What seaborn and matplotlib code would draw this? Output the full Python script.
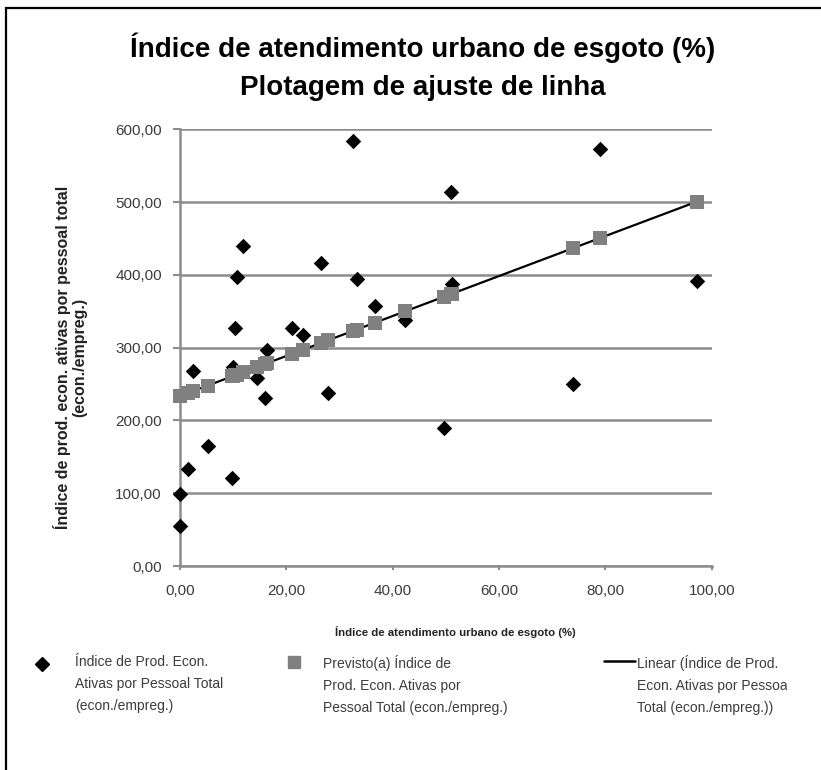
import matplotlib
matplotlib.use("Agg")
import matplotlib.pyplot as plt
import seaborn as sns
import pandas as pd
from matplotlib.patches import Rectangle
from matplotlib.transforms import Bbox, TransformedBbox

# ---- data ----
esgoto = [0, 0, 1.5, 2.5, 5.2, 9.8, 9.9, 10.3, 10.7, 11.8, 14.5, 16.0, 16.4,
          21.0, 23.2, 26.5, 27.8, 32.6, 33.2, 36.7, 42.3, 49.7, 50.9, 51.2,
          74.0, 79.0, 97.2]
produtividade = [99, 55, 133, 268.5, 165, 120.6, 274, 326.6, 397.5, 440, 258,
                 231, 297, 327.5, 317.5, 416, 238, 584, 394, 357.7, 338, 189.3,
                 514, 387.5, 249.7, 572.5, 391.6]
previsto = [233.6, 233.6, 237.7, 240.5, 247.9, 260.5, 260.8, 261.9, 263.0,
            266.0, 273.4, 277.6, 278.7, 291.3, 297.3, 306.4, 310.0, 323.2,
            324.8, 334.4, 349.8, 370.1, 373.4, 374.2, 436.9, 450.6, 500.6]
x_ticks = [0, 20, 40, 60, 80, 100]
y_ticks = [0, 100, 200, 300, 400, 500, 600]

title = "Índice de atendimento urbano de esgoto (%)\nPlotagem de ajuste de linha"
x_label = "Índice de atendimento urbano de esgoto (%)"
y_label = "Índice de prod. econ. ativas por pessoal total\n(econ./empreg.)"
leg1 = "Índice de Prod. Econ.\nAtivas por Pessoal Total\n(econ./empreg.)"
leg2 = "Previsto(a) Índice de\nProd. Econ. Ativas por\nPessoal Total (econ./empreg.)"
leg3 = "Linear (Índice de Prod.\nEcon. Ativas por Pessoal\nTotal (econ./empreg.))"

df = pd.DataFrame({"x": esgoto, "y": produtividade, "p": previsto})

sns.set_theme(style="white")
FONT = ["Liberation Sans", "DejaVu Sans"]
plt.rcParams["font.family"] = FONT

GRID = "#8c8c8c"
TXT = "#3c3c3c"

fig = plt.figure(figsize=(8.21, 7.70), dpi=100)
W, H = 821, 770
ax = fig.add_axes([180 / W, 1 - 566 / H, (711.7 - 180) / W, (566 - 129.3) / H])

sns.scatterplot(data=df, x="x", y="y", marker="D", s=62, color="black",
                linewidth=0, ax=ax, zorder=3, clip_on=False)
sns.lineplot(data=df, x="x", y="p", color="black", linewidth=1.6, ax=ax,
             zorder=4, errorbar=None)
sns.scatterplot(data=df, x="x", y="p", marker="s", s=95, color="#808080",
                linewidth=0, ax=ax, zorder=5, clip_on=False)

ax.set_xlim(0, 100)
ax.set_ylim(0, 600)
ax.set_xticks(x_ticks)
ax.set_yticks(y_ticks)
ax.set_xticklabels([f"{v:.2f}".replace(".", ",") for v in x_ticks])
ax.set_yticklabels([f"{v:.2f}".replace(".", ",") for v in y_ticks])
ax.yaxis.grid(True, color=GRID, linewidth=1.8)
ax.xaxis.grid(False)
ax.set_axisbelow(True)
for s in ["top", "right"]:
    ax.spines[s].set_visible(False)
for s in ["left", "bottom"]:
    ax.spines[s].set_color(GRID)
    ax.spines[s].set_linewidth(1.8)
ax.tick_params(axis="y", which="major", left=True, length=5, width=1.5,
               color=GRID, labelsize=11, labelcolor=TXT, pad=8)
ax.tick_params(axis="x", which="major", bottom=True, length=3, width=1.5,
               color=GRID, labelsize=11, labelcolor=TXT, pad=10)

ax.set_xlabel("")
ax.set_ylabel("")
fig.text(455 / W, 1 - 632 / H, x_label, ha="center", va="center",
         fontsize=8.2, fontweight="bold", color="#222222")
fig.text(70 / W, 1 - 357 / H, y_label, ha="center", va="center",
         rotation=90, fontsize=11.5, fontweight="bold", color="#222222",
         linespacing=1.15)

fig.text(423 / W, 1 - 67 / H, title, ha="center", va="center",
         fontsize=20, fontweight="bold", color="black", linespacing=1.6)

# legend (drawn as in the reference, below the axis title)
LEG_Y = 655
fig.text(75 / W, 1 - LEG_Y / H, leg1, ha="left", va="top", fontsize=10,
         color=TXT, linespacing=1.72)
fig.text(323 / W, 1 - LEG_Y / H, leg2, ha="left", va="top", fontsize=10,
         color=TXT, linespacing=1.72)
t3 = fig.text(637 / W, 1 - LEG_Y / H, leg3, ha="left", va="top",
              fontsize=10, color=TXT, linespacing=1.72)
t3.set_clip_on(True)
t3.set_clip_box(TransformedBbox(Bbox([[0, 0], [787 / W, 1]]), fig.transFigure))

fig.lines.append(plt.Line2D([42 / W], [1 - 664 / H], marker="D", markersize=7,
                            color="black", linestyle="none",
                            transform=fig.transFigure))
fig.lines.append(plt.Line2D([294 / W], [1 - 662 / H], marker="s", markersize=8,
                            color="#808080", linestyle="none",
                            transform=fig.transFigure))
fig.lines.append(plt.Line2D([604 / W, 635 / W], [1 - 661 / H, 1 - 661 / H],
                            color="black", linewidth=1.8,
                            transform=fig.transFigure))

# outer frame (open on the right and bottom, as in the cropped reference)
fig.patches.append(Rectangle((6 / W, -0.05), 1.2, 1 - 7.5 / H + 0.05,
                             fill=False, edgecolor="black", linewidth=1.6,
                             transform=fig.transFigure))

fig.savefig("out.png", dpi=100)
